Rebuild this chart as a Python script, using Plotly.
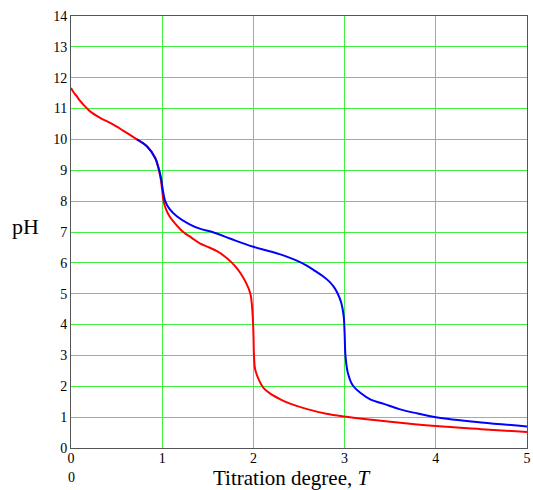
import plotly.graph_objects as go

# Red curve (two-step titration)
red_T = [0.000, 0.030, 0.062, 0.100, 0.135, 0.209, 0.319, 0.465, 0.612, 0.722, 0.832, 0.923, 0.960,
         0.985, 1.000, 1.015, 1.040, 1.080, 1.140, 1.230, 1.320, 1.418, 1.500, 1.600, 1.690, 1.766,
         1.820, 1.857, 1.920, 1.967, 1.985, 1.997, 2.002, 2.006, 2.020, 2.060, 2.110, 2.185, 2.300,
         2.410, 2.590, 2.800, 3.000, 3.500, 4.000, 4.500, 5.000]
red_pH = [11.67, 11.52, 11.40, 11.25, 11.13, 10.91, 10.70, 10.48, 10.21, 10.00, 9.78, 9.40, 9.05,
          8.70, 8.35, 8.00, 7.75, 7.51, 7.28, 7.00, 6.82, 6.62, 6.52, 6.38, 6.20, 6.00,
          5.82, 5.67, 5.35, 5.00, 4.59, 4.00, 3.50, 3.00, 2.54, 2.21, 1.95, 1.76, 1.57,
          1.43, 1.26, 1.11, 1.02, 0.85, 0.71, 0.61, 0.52]

# Blue curve (three-step titration)
blue_T = [0.722, 0.832, 0.923, 0.967, 0.990, 1.005, 1.033, 1.080, 1.160, 1.300, 1.420, 1.550,
          1.750, 2.000, 2.200, 2.350, 2.470, 2.580, 2.680, 2.770, 2.830, 2.880, 2.920, 2.964,
          2.990, 3.000, 3.010, 3.036, 3.085, 3.176, 3.286, 3.430, 3.600, 3.800, 4.000, 4.500, 5.000]
blue_pH = [10.00, 9.78, 9.40, 9.00, 8.70, 8.40, 8.00, 7.75, 7.51, 7.25, 7.10, 7.00,
           6.78, 6.52, 6.36, 6.22, 6.08, 5.92, 5.73, 5.55, 5.40, 5.23, 5.03, 4.70,
           4.27, 3.73, 2.97, 2.43, 2.05, 1.78, 1.57, 1.43, 1.26, 1.12, 1.00, 0.83, 0.70]

x_ticks = [0, 1, 2, 3, 4, 5]
y_ticks = list(range(0, 15))

fig = go.Figure()
fig.add_trace(go.Scatter(x=red_T, y=red_pH, mode="lines",
                         line=dict(color="#ff0000", width=2, shape="spline", smoothing=1.0),
                         showlegend=False))
fig.add_trace(go.Scatter(x=blue_T, y=blue_pH, mode="lines",
                         line=dict(color="#0000ff", width=2, shape="spline", smoothing=1.0),
                         showlegend=False))

serif = "Liberation Serif, Times New Roman, serif"
fig.update_layout(
    width=533, height=490,
    margin=dict(l=71, r=6, t=16, b=42),
    paper_bgcolor="white", plot_bgcolor="white",
    font=dict(family=serif, size=14, color="black"),
    xaxis=dict(range=[0, 5], tickvals=x_ticks, ticktext=[str(v) for v in x_ticks],
               showgrid=True, gridcolor="#40f040", gridwidth=1, zeroline=False,
               showline=True, linecolor="#555555", linewidth=1, mirror=True,
               ticks="", tickfont=dict(family=serif, size=14, color="black"),
               automargin=False, ticklabeloverflow="allow", ticklabelstandoff=-3),
    yaxis=dict(range=[0, 14], tickvals=y_ticks, ticktext=[str(v) for v in y_ticks],
               showgrid=True, gridcolor="#40f040", gridwidth=1, zeroline=False,
               showline=True, linecolor="#555555", linewidth=1, mirror=True,
               ticks="", tickfont=dict(family=serif, size=14, color="black"),
               automargin=False),
)

fig.add_annotation(text="pH", xref="paper", yref="paper",
                   x=(25 - 71) / 456, y=(448.3 - 227) / 431.8,
                   xanchor="center", yanchor="middle", showarrow=False,
                   font=dict(family=serif, size=22, color="black"))
fig.add_annotation(text="Titration degree, <i>T</i>", xref="paper", yref="paper",
                   x=(291 - 71) / 456, y=(448.3 - 464) / 431.8,
                   xanchor="center", yanchor="top", showarrow=False,
                   font=dict(family=serif, size=21, color="black"))
fig.add_annotation(text="0", xref="paper", yref="paper",
                   x=0, y=(448.3 - 478) / 431.8,
                   xanchor="center", yanchor="middle", showarrow=False,
                   font=dict(family=serif, size=14, color="black"))

fig.write_html("out.html")
